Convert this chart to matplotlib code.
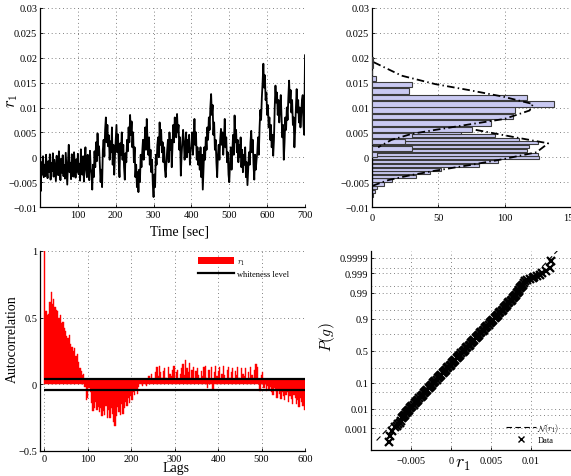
import numpy as np
import matplotlib
matplotlib.use('Agg')
import matplotlib.pyplot as plt
from matplotlib.lines import Line2D
from matplotlib.patches import Patch
from statistics import NormalDist

plt.rcParams['font.family'] = ['Liberation Serif', 'DejaVu Serif']
plt.rcParams['mathtext.fontset'] = 'cm'
plt.rcParams['axes.unicode_minus'] = True

# ---------------- data ----------------
# r1 time series (units of 1e-3), one value every 2 s
sample_period = 2.0
r1_milli = [
    2.3, -6.8, -1.0, -3.5, 0.2, -4.0, -1.5, -3.8, 0.5, -2.5,
    -4.2, -0.8, -3.0, 0.6, -4.5, -1.2, -2.8, 0.8, -3.9, -0.5,
    -2.6, -4.8, 0.3, -2.0, -3.6, 1.2, -2.4, -4.6, -0.3, -3.1,
    0.4, -3.8, -1.6, -4.3, 0.9, -2.2, -5.5, -0.9, 2.5, -3.0,
    -1.1, -4.4, 0.6, -2.7, -3.9, 1.0, -1.8, -4.1, -0.4, -2.9,
    0.7, -3.4, -1.3, -4.7, 1.6, -2.1, -3.5, 0.2, -4.9, -1.0,
    2.0, -2.6, -4.0, 0.5, -1.7, -4.6, 1.3, -2.2, -3.3, -6.5,
    -1.5, -4.0, 1.2, -2.0, 3.0, -0.8, 4.8, 0.5, 2.2, -1.6,
    -5.0, -2.5, -6.0, 1.5, 3.5, 0.2, 5.5, 8.0, 3.0, 6.5,
    2.2, 4.4, -0.5, 3.2, 1.0, 6.0, -1.5, 2.5, -3.5, 0.3,
    3.5, 6.5, 1.0, 4.6, -1.0, -4.0, 2.8, 0.5, 5.0, -0.5,
    2.5, -2.0, -4.5, 0.8, -1.0, 3.5, 1.2, 6.0, 3.0, 8.5,
    4.5, 7.2, 2.0, 5.0, -1.0, 2.0, -4.0, -1.5, -6.0, -3.0,
    -7.0, -2.5, -5.0, 0.5, -2.0, 1.0, 3.5, -0.5, 2.5, 6.0,
    1.5, 7.7, 3.5, 0.5, 4.0, -1.5, 1.5, -3.0, -0.5, -5.5,
    -8.0, -3.5, -6.0, 0.5, -1.5, 2.5, 4.0, 0.0, 7.0, 2.5,
    5.5, 1.0, 3.0, -1.0, 2.0, -2.5, -4.0, -1.0, 1.5, 3.5,
    -1.0, 5.0, 1.5, 3.5, -2.0, 2.5, 6.5, 3.0, 8.0, 4.5,
    4.0, 8.7, 5.0, 6.5, 1.5, 4.0, -3.7, 0.5, 3.0, 5.5,
    3.0, -0.5, 2.5, 5.0, 0.0, 3.5, 1.0, 4.5, -1.5, 1.5,
    2.0, 5.0, 0.5, 3.5, 7.7, 2.5, 5.0, -0.5, 2.0, -1.5,
    1.0, -2.5, 2.0, -4.0, 0.5, -6.5, -2.0, 2.0, -0.5, 4.0,
    1.5, 6.0, 3.5, 8.0, 5.5, 10.0, 12.7, 8.5, 10.5, 4.5,
    7.0, 1.5, 3.5, -1.0, -4.0, 0.5, 2.5, -0.5, 3.5, 5.7,
    2.5, 5.0, 0.5, 3.5, 7.7, 2.0, 4.0, -1.0, 1.0, -3.5,
    -5.0, -1.0, 2.0, -2.5, 1.0, 4.5, 0.5, 8.4, 3.0, 5.5,
    1.0, 3.5, -1.0, 2.5, 0.0, 4.0, -2.0, 1.5, -3.0, 0.5,
    -1.5, 2.0, -4.0, -1.0, -5.6, -2.5, 1.0, -1.5, 3.0, 5.3,
    1.0, 3.5, -1.5, -4.5, 0.5, -2.5, -0.5, 1.0, 4.0, 0.5,
    6.0, 9.5, 7.5, 12.0, 15.0, 18.8, 14.0, 16.5, 11.5, 13.0,
    8.5, 10.5, 6.0, 8.0, 3.5, 6.5, 2.0, 4.5, 0.3, 3.5,
    10.0, 14.4, 11.0, 13.0, 8.5, 11.5, 7.0, 10.0, 12.5, 8.0,
    4.0, 6.5, -0.5, 3.0, 8.0, 5.5, 10.0, 7.5, 12.0, 15.4,
    11.0, 13.5, 9.0, 11.5, 6.5, 8.0, 2.0, 5.5, 10.0, 13.7,
    9.0, 11.5, 7.0, 10.0, 6.0, 8.5, 11.5, 12.5, 6.5, 4.5,
    20.5,
]

r1_ticks = [-0.01, -0.005, 0, 0.005, 0.01, 0.015, 0.02, 0.025, 0.03]
r1_ticklabels = ['\u22120.01', '\u22120.005', '0', '0.005', '0.01', '0.015', '0.02', '0.025', '0.03']
time_ticks = [100, 200, 300, 400, 500, 600, 700]
count_ticks = [0, 50, 100, 150]

# histogram of r1, samples after the jump (bin centres, counts)
hist_a_centers = [0.0005, 0.0018, 0.0031, 0.0043, 0.0056, 0.0069, 0.0082, 0.0095,
                  0.0107, 0.0120, 0.0133, 0.0146, 0.0159, 0.0171, 0.0184, 0.0197]
hist_a_counts = [4, 30, 25, 30, 75, 90, 106, 108, 137, 117, 28, 30, 3, 0, 1, 1]
# histogram of r1, samples before the jump
hist_b_centers = [-0.0076, -0.0069, -0.0061, -0.0054, -0.0046, -0.0039, -0.0031, -0.0024,
                  -0.0016, -0.0009, -0.0001, 0.0006, 0.0014, 0.0021, 0.0029, 0.0036,
                  0.0044, 0.0051, 0.0059, 0.0066, 0.0074, 0.0081, 0.0089, 0.0096,
                  0.0104, 0.0111, 0.0119, 0.0126]
hist_b_counts = [1, 2, 4, 9, 15, 33, 44, 52, 81, 95, 126, 125, 117, 118, 125, 111,
                 93, 67, 55, 40, 28, 18, 12, 8, 5, 3, 2, 1]
# fitted normal densities (count, r1)
fit_a_count = [1.3, 22.3, 47.7, 73.1, 98.5, 121.3, 118.8, 99.8, 75.7, 47.7, 30.0, 14.7, 4.6]
fit_a_r1 = [0.0191, 0.0164, 0.0147, 0.0135, 0.0122, 0.0107, 0.0094, 0.0077, 0.0067,
            0.0055, 0.0047, 0.0035, 0.0020]
fit_b_count = [78.2, 106.1, 132.8, 124.0, 98.5, 73.1, 47.7, 27.4, 12.2, 0.8]
fit_b_r1 = [0.0055, 0.0041, 0.0028, 0.0010, -0.0004, -0.0016, -0.0027, -0.0037, -0.0046, -0.0057]

# autocorrelation of r1, every 3 lags
acf_step = 3
acf = [
    1.00, 0.55, 0.52, 0.53, 0.62, 0.69, 0.60, 0.64, 0.58, 0.56,
    0.55, 0.50, 0.52, 0.46, 0.47, 0.42, 0.40, 0.36, 0.35, 0.37,
    0.30, 0.28, 0.25, 0.27, 0.21, 0.23, 0.17, 0.12, 0.10, 0.07,
    0.08, -0.02, -0.12, -0.10, -0.03, -0.06, -0.14, -0.20, -0.18, -0.13,
    -0.19, -0.17, -0.21, -0.18, -0.24, -0.20, -0.23, -0.16, -0.25, -0.19,
    -0.25, -0.18, -0.22, -0.28, -0.31, -0.24, -0.17, -0.21, -0.23, -0.15,
    -0.22, -0.18, -0.13, -0.16, -0.10, -0.14, -0.09, -0.12, -0.06, -0.08,
    -0.04, -0.07, -0.02, 0.03, 0.02, -0.01, 0.01, 0.03, -0.01, 0.04,
    0.06, 0.03, 0.08, 0.04, 0.02, 0.09, 0.13, 0.06, 0.14, 0.09,
    0.05, 0.10, 0.12, 0.05, 0.03, 0.13, 0.08, 0.06, 0.11, 0.14,
    0.04, 0.09, 0.11, 0.03, 0.08, 0.12, 0.15, 0.07, 0.18, 0.12,
    0.09, 0.16, 0.05, 0.11, 0.13, 0.04, 0.10, 0.12, 0.07, 0.02,
    0.10, 0.06, 0.13, 0.14, 0.05, -0.03, 0.11, 0.04, 0.13, -0.04,
    0.09, 0.14, 0.06, 0.10, 0.13, 0.04, 0.08, 0.14, 0.07, 0.03,
    0.11, 0.13, 0.05, 0.09, 0.12, 0.04, 0.10, 0.07, 0.13, 0.05,
    0.03, 0.12, 0.08, 0.06, 0.12, 0.04, 0.09, 0.05, 0.13, 0.07,
    0.05, 0.11, 0.15, 0.13, 0.02, -0.05, 0.07, 0.09, -0.03, 0.02,
    -0.05, -0.01, -0.04, -0.02, -0.06, -0.08, -0.03, -0.05, -0.10, -0.04,
    -0.07, -0.11, -0.06, -0.09, -0.12, -0.08, -0.06, -0.13, -0.09, -0.11,
    -0.15, -0.08, -0.10, -0.15, -0.12, -0.17, -0.10, -0.13, -0.16, -0.19,
]
whiteness_level = 0.043
max_lag = 600
lag_ticks = [0, 100, 200, 300, 400, 500, 600]
acf_ticks = [-0.5, 0, 0.5, 1]
acf_ticklabels = ['\u22120.5', '0', '0.5', '1']

# normal probability plot (r1 value, normal score of its plotting position)
pp_x = [
    -0.0078, -0.0076, -0.0074, -0.0070, -0.0068, -0.0066, -0.0064, -0.0063,
    -0.00612, -0.00600, -0.00588, -0.00576, -0.00563, -0.00550, -0.00537, -0.00524,
    -0.00510, -0.00496, -0.00482, -0.00468, -0.00453, -0.00439, -0.00424, -0.00410,
    -0.00396, -0.00381, -0.00367, -0.00352, -0.00338, -0.00324, -0.00310, -0.00295,
    -0.00281, -0.00266, -0.00252, -0.00238, -0.00224, -0.00209, -0.00195, -0.00180,
    -0.00166, -0.00151, -0.00136, -0.00121, -0.00106, -0.00091, -0.00076, -0.00062,
    -0.00047, -0.00032, -0.00018, -0.00003, 0.00012, 0.00027, 0.00042, 0.00056,
    0.00071, 0.00086, 0.00101, 0.00116, 0.00130, 0.00145, 0.00160, 0.00175,
    0.00190, 0.00204, 0.00219, 0.00234, 0.00249, 0.00263, 0.00278, 0.00293,
    0.00308, 0.00322, 0.00337, 0.00352, 0.00367, 0.00381, 0.00396, 0.00411,
    0.00426, 0.00440, 0.00455, 0.00470, 0.00485, 0.00499, 0.00514, 0.00529,
    0.00544, 0.00558, 0.00573, 0.00588, 0.00603, 0.00617, 0.00632, 0.00646,
    0.00661, 0.00675, 0.00689, 0.00703, 0.00717, 0.00731, 0.00744, 0.00757,
    0.00770, 0.00783, 0.00795, 0.00808, 0.00820, 0.00832, 0.00844, 0.00856,
    0.00867, 0.00879, 0.00890, 0.00901, 0.00912,
    0.0093, 0.0095, 0.0099, 0.0102, 0.0104, 0.0108, 0.0111, 0.0114, 0.0119, 0.0124, 0.01245,
]
pp_score = [
    -3.63, -3.39, -3.19, -3.06, -3.00, -2.93, -2.87, -2.80,
    -2.70, -2.65, -2.60, -2.55, -2.50, -2.45, -2.40, -2.35,
    -2.30, -2.25, -2.20, -2.15, -2.10, -2.05, -2.00, -1.95,
    -1.90, -1.85, -1.80, -1.75, -1.70, -1.65, -1.60, -1.55,
    -1.50, -1.45, -1.40, -1.35, -1.30, -1.25, -1.20, -1.15,
    -1.10, -1.05, -1.00, -0.95, -0.90, -0.85, -0.80, -0.75,
    -0.70, -0.65, -0.60, -0.55, -0.50, -0.45, -0.40, -0.35,
    -0.30, -0.25, -0.20, -0.15, -0.10, -0.05, 0.00, 0.05,
    0.10, 0.15, 0.20, 0.25, 0.30, 0.35, 0.40, 0.45,
    0.50, 0.55, 0.60, 0.65, 0.70, 0.75, 0.80, 0.85,
    0.90, 0.95, 1.00, 1.05, 1.10, 1.15, 1.20, 1.25,
    1.30, 1.35, 1.40, 1.45, 1.50, 1.55, 1.60, 1.65,
    1.70, 1.75, 1.80, 1.85, 1.90, 1.95, 2.00, 2.05,
    2.10, 2.15, 2.20, 2.25, 2.30, 2.35, 2.40, 2.45,
    2.50, 2.55, 2.60, 2.65, 2.70,
    2.78, 2.83, 2.87, 2.92, 2.96, 3.00, 3.05, 3.10, 3.20, 3.31, 3.61,
]
fit_line_x = [-0.0093, 0.0133]
fit_line_score = [-3.59, 4.0]
prob_ticks = [0.001, 0.01, 0.1, 0.5, 0.9, 0.99, 0.999, 0.9999]
prob_ticklabels = ['0.001', '0.01', '0.1', '0.5', '0.9', '0.99', '0.999', '0.9999']
prob_minor = [0.0005, 0.005, 0.05, 0.25, 0.75, 0.95, 0.995, 0.9995]
pp_xticks = [-0.005, 0, 0.005, 0.01]
pp_xticklabels = ['\u22120.005', '0', '0.005', '0.01']

# ---------------- helpers ----------------
_nd = NormalDist()


def _probit(p):
    p = np.clip(np.asarray(p, dtype=float), 1e-12, 1 - 1e-12)
    return np.vectorize(_nd.inv_cdf, otypes=[float])(p)


def _cdf(z):
    return np.vectorize(_nd.cdf, otypes=[float])(np.asarray(z, dtype=float))


GRID = dict(color='0.35', linestyle=(0, (1, 3.5)), linewidth=0.6)
TICKFS = 7.5


def style(ax):
    for s in ('top', 'right'):
        ax.spines[s].set_visible(False)
    for s in ('left', 'bottom'):
        ax.spines[s].set_linewidth(0.9)
    ax.tick_params(direction='in', length=2.5, width=0.6, labelsize=TICKFS, pad=2)
    ax.set_axisbelow(True)
    ax.grid(True, **GRID)


W, H = 571, 477
fig = plt.figure(figsize=(W / 100, H / 100), dpi=100)
ax1 = fig.add_axes([40 / W, 1 - 208 / H, 265 / W, 199 / H])
ax2 = fig.add_axes([372 / W, 1 - 208 / H, 199 / W, 199 / H])
ax3 = fig.add_axes([40 / W, 1 - 452 / H, 265 / W, 200 / H])
ax4 = fig.add_axes([371 / W, 1 - 451 / H, 200 / W, 199 / H])

# ---- time series ----
r1 = np.array(r1_milli) * 1e-3
time = np.arange(len(r1)) * sample_period
style(ax1)
ax1.plot(time, r1, color='k', lw=1.3)
ax1.set_xlim(0, 700)
ax1.set_ylim(-0.01, 0.03)
ax1.set_xticks(time_ticks)
ax1.set_yticks(r1_ticks)
ax1.set_yticklabels(r1_ticklabels)
ax1.set_xlabel('Time [sec]', fontsize=10)
ax1.xaxis.set_label_coords(0.528, -0.12)
ax1.xaxis.label.set_va('center')
ax1.set_ylabel('$r_1$', fontsize=12, rotation=90,
               bbox=dict(facecolor='white', edgecolor='none', pad=0.5))
ax1.yaxis.set_label_coords(-0.106, 0.54)
ax1.yaxis.label.set_va('center')

# ---- histogram ----
style(ax2)
ax2.barh(hist_b_centers, hist_b_counts, height=0.00066, color='#c9c9f2',
         edgecolor='#3c3c3c', linewidth=0.8, zorder=2)
ax2.barh(hist_a_centers, hist_a_counts, height=0.00106, color='#c9c9f2',
         edgecolor='#3c3c3c', linewidth=0.8, zorder=3)
dd = (0, (4.2, 1.8, 0.8, 1.8))
ax2.plot(fit_a_count, fit_a_r1, color='k', lw=1.3, linestyle=dd, zorder=4)
ax2.plot(fit_b_count, fit_b_r1, color='k', lw=1.3, linestyle=dd, zorder=4)
ax2.set_xlim(0, 150)
ax2.set_ylim(-0.01, 0.03)
ax2.set_xticks(count_ticks)
ax2.set_yticks(r1_ticks)
ax2.set_yticklabels(r1_ticklabels)
ax2.tick_params(axis='x', pad=4)

# ---- autocorrelation ----
style(ax3)
lags = np.arange(len(acf)) * acf_step
ax3.fill_between([0, max_lag], 0, whiteness_level, color='#ff0000', linewidth=0, zorder=2)
ax3.bar(lags, acf, width=acf_step, align='edge', color='#ff0000', edgecolor='#ff0000',
        linewidth=0.3, zorder=2)
ax3.hlines([whiteness_level, -whiteness_level], 0, max_lag, color='k', lw=1.6, zorder=3)
ax3.set_xlim(-9.2, max_lag)
ax3.set_ylim(-0.5, 1)
ax3.set_xticks(lag_ticks)
ax3.set_yticks(acf_ticks)
ax3.set_yticklabels(acf_ticklabels)
ax3.set_xlabel('Lags', fontsize=10)
ax3.xaxis.set_label_coords(0.513, -0.085)
ax3.xaxis.label.set_va('center')
ax3.set_ylabel('Autocorrelation', fontsize=10)
ax3.yaxis.set_label_coords(-0.106, 0.565)
ax3.yaxis.label.set_va('center')
ax3.legend([Patch(facecolor='#ff0000', edgecolor='none'), Line2D([], [], color='k', lw=1.6)],
           ['$r_1$', 'whiteness level'], loc='upper left', bbox_to_anchor=(0.575, 1.0),
           frameon=False, fontsize=6, handlelength=4.3, handleheight=1.0,
           borderpad=0.2, labelspacing=0.35, handletextpad=0.3)

# ---- normal probability plot ----
style(ax4)
ax4.set_yscale('function', functions=(_probit, _cdf))
ax4.plot(fit_line_x, _cdf(fit_line_score), color='k', lw=0.8, dashes=(5, 3), zorder=2,
         label='$\\mathcal{N}(r_1)$')
ax4.plot(pp_x, _cdf(pp_score), linestyle='none', marker='x', color='k', ms=5.6, mew=1.6,
         zorder=3, label='Data')
ax4.set_xlim(-0.01, 0.015)
ax4.set_ylim(_nd.cdf(-3.97), _nd.cdf(3.99))
ax4.set_xticks(pp_xticks)
ax4.set_xticklabels(pp_xticklabels)
ax4.set_yticks(prob_ticks)
ax4.set_yticklabels(prob_ticklabels)
ax4.set_yticks(prob_minor, minor=True)
ax4.tick_params(which='minor', length=0)
ax4.grid(True, which='both', **GRID)
ax4.tick_params(axis='x', pad=4)
ax4.set_xlabel('$r_1$', fontsize=13)
ax4.xaxis.set_label_coords(0.46, -0.07)
ax4.xaxis.label.set_va('center')
ax4.set_ylabel('$P(g)$', fontsize=11)
ax4.yaxis.set_label_coords(-0.22, 0.573)
ax4.yaxis.label.set_va('center')
leg4 = ax4.legend(loc='lower right', bbox_to_anchor=(0.97, 0.0), frameon=False, fontsize=6,
                  handlelength=3.6, handletextpad=0.2, borderpad=0.2, labelspacing=0.3)
for h in leg4.legend_handles:
    if h.get_marker() == 'x':
        h.set_markersize(4.0)
        h.set_markeredgewidth(1.0)

fig.savefig('out.png', dpi=100)
